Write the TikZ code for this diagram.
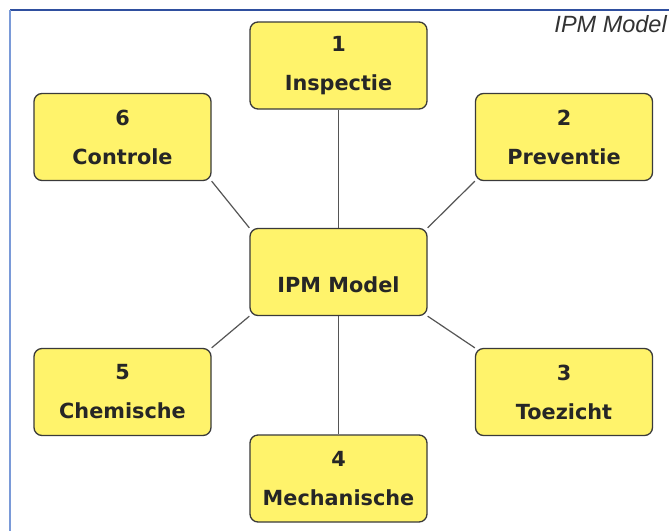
\documentclass[tikz,border=0pt]{standalone}
\usepackage{fontspec}
\setmainfont{DejaVu Sans}
\newfontfamily\titlefont{Liberation Sans}
\definecolor{boxfill}{HTML}{FFF36B}
\definecolor{boxline}{HTML}{3A3A3A}
\definecolor{conn}{HTML}{555555}
\definecolor{frametop}{HTML}{2F4F9F}
\definecolor{frameleft}{HTML}{7A9AD8}
\definecolor{titlegray}{HTML}{333333}
\begin{document}
\begin{tikzpicture}[x=1pt,y=-1pt,
  ipmbox/.style={draw=boxline, line width=1.3pt, fill=boxfill, rounded corners=8pt,
    minimum width=177pt, minimum height=87pt, inner sep=0pt, align=center,
    font=\fontsize{20.8}{39}\selectfont\bfseries, text=black!85},
  ipmtext/.style={inner sep=0pt, font=\fontsize{20.8}{39}\selectfont\bfseries, text=black!85},
  link/.style={draw=conn, line width=1.2pt}]
\useasboundingbox (0,0) rectangle (669,531);
\fill[white] (0,0) rectangle (669,531);
\draw[frametop, line width=1.2pt] (10,10) -- (669,10);
\draw[frameleft, line width=1.2pt] (10,10) -- (10,531);
\node[font=\titlefont\itshape\fontsize{23.5}{26}\selectfont, text=titlegray, anchor=base east, inner sep=0pt] (title) at (667,32.5) {IPM Model};
% connectors (behind boxes)
\node[ipmbox, draw=none, fill=none] (c0) at (338.5,272) {};
\node[ipmbox, draw=none, fill=none] (b1) at (338.5,65.5) {};
\node[ipmbox, draw=none, fill=none] (b2) at (564,137) {};
\node[ipmbox, draw=none, fill=none] (b3) at (564,392) {};
\node[ipmbox, draw=none, fill=none] (b4) at (338.5,478.5) {};
\node[ipmbox, draw=none, fill=none] (b5) at (122.5,392) {};
\node[ipmbox, draw=none, fill=none] (b6) at (122.5,137) {};
\draw[link] (c0.north) -- (b1.south);
\draw[link] (c0.north east) -- (b2.south west);
\draw[link] (c0.south east) -- (b3.north west);
\draw[link] (c0.south) -- (b4.north);
\draw[link] (c0.south west) -- (b5.north east);
\draw[link] (c0.north west) -- (b6.south east);
% boxes
\node[ipmbox] (n0) at (c0) {};
\node[ipmtext] (t0) at (338.5,285) {IPM Model};
\node[ipmbox] (n1) at (b1) {1\\Inspectie};
\node[ipmbox] (n2) at (b2) {2\\Preventie};
\node[ipmbox] (n3) at (b3) {3\\Toezicht};
\node[ipmbox] (n4) at (b4) {4\\Mechanische};
\node[ipmbox] (n5) at (b5) {5\\Chemische};
\node[ipmbox] (n6) at (b6) {6\\Controle};
\end{tikzpicture}
\end{document}
